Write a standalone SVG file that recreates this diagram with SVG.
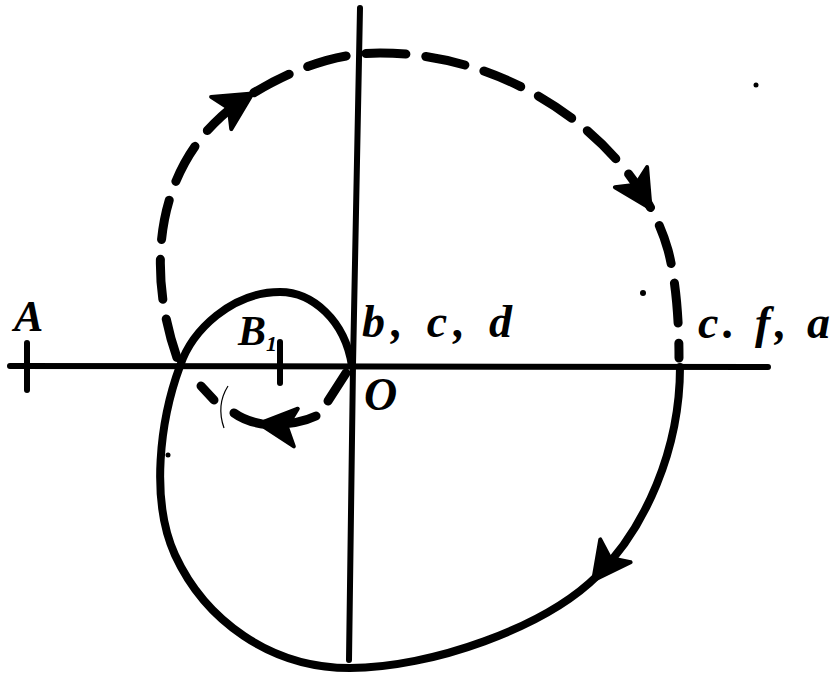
<svg xmlns="http://www.w3.org/2000/svg" width="835" height="691" viewBox="0 0 835 691">
<defs>
<style>
.ax{stroke:#000;stroke-width:6;fill:none;stroke-linecap:round}
.sol{stroke:#000;stroke-width:8;fill:none;stroke-linecap:round;stroke-linejoin:round}
.dsh{stroke:#000;stroke-width:9;fill:none;stroke-linecap:round;stroke-dasharray:40 20}
.seg{stroke:#000;stroke-width:9;fill:none;stroke-linecap:round}
.lbl{font-family:"Liberation Serif","DejaVu Serif",serif;font-weight:bold;font-style:italic;fill:#000}
.ah{fill:#000;stroke:#000;stroke-width:4;stroke-linejoin:round}
</style>
<polygon id="head" points="3,0 -34,-19 -25,0 -34,19"/>
</defs>
<rect width="835" height="691" fill="#fff"/>
<g id="axes">
<path class="ax" d="M10,366 L768,367"/>
<path class="ax" d="M360,8 L353,365 L349,660"/>
<path class="ax" d="M27,343 L27,390"/>
<path class="ax" d="M280,342 L280,383"/>
</g>
<g id="connectors">
<path class="sol" d="M352,366 C345,320 312,292 280,292 C232,292 192,330 180,366 C160,420 150,500 175,555 C205,620 270,668 350,668 C430,668 545,628 598,575 C645,528 680,450 680,367"/>
<path class="dsh" stroke-dashoffset="51" d="M180,366 C140,260 160,150 250,95 C300,65 340,53 380,53 C520,53 640,150 668,250 C676,280 679,320 679,358"/>
<path class="seg" d="M346,373 L328,401"/>
<path class="seg" d="M316,416 Q295,426 262,424 Q245,421 234,413"/>
<path class="seg" d="M214,400 L201,386"/>
<path d="M228,386 Q216,405 224,428" stroke="#000" stroke-width="1.2" fill="none"/>
<use href="#head" class="ah" transform="translate(250,95) rotate(-32)"/>
<use href="#head" class="ah" transform="translate(649,206) rotate(58)"/>
<use href="#head" class="ah" transform="translate(595,578) rotate(127)"/>
<use href="#head" class="ah" transform="translate(262,424) rotate(186)"/>
<circle cx="643" cy="293" r="3"/>
<circle cx="756" cy="85" r="2.5"/>
<circle cx="168" cy="455" r="2.5"/>
</g>
<g id="labels">
<text class="lbl" x="14" y="331" font-size="44">A</text>
<text class="lbl" x="238" y="345" font-size="42">B<tspan font-size="22" dy="6">1</tspan></text>
<text class="lbl" x="362" y="337" font-size="46" textLength="150" lengthAdjust="spacing">b, c, d</text>
<text class="lbl" x="364" y="410" font-size="46">O</text>
<text class="lbl" x="698" y="338" font-size="46" textLength="132" lengthAdjust="spacing">c. f, a</text>
</g>
</svg>
